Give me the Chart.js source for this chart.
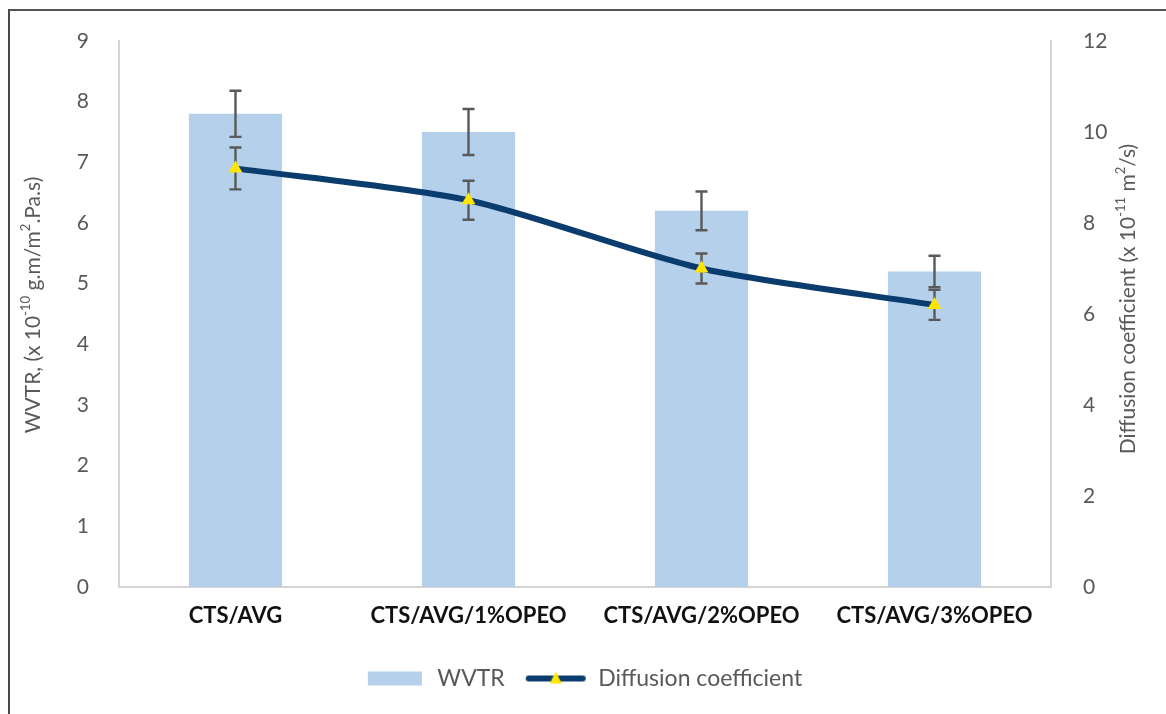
<!DOCTYPE html>
<html>
<head>
<meta charset="utf-8">
<script src="https://cdn.jsdelivr.net/npm/chart.js@4.4.1/dist/chart.umd.min.js"></script>
<style>
  html, body { margin: 0; padding: 0; background: #fff; }
  canvas { display: block; }
</style>
</head>
<body>
<canvas id="c" width="1166" height="714"></canvas>
<script>
const categories = ["CTS/AVG", "CTS/AVG/1%OPEO", "CTS/AVG/2%OPEO", "CTS/AVG/3%OPEO"];
const wvtr = [7.8, 7.5, 6.2, 5.2];
const wvtrErr = [0.38, 0.38, 0.32, 0.26];
const diffusion = [9.2, 8.5, 7.0, 6.2];
const diffusionErr = [0.46, 0.43, 0.33, 0.33];
const leftTicks = [0, 1, 2, 3, 4, 5, 6, 7, 8, 9];
const rightTicks = [0, 2, 4, 6, 8, 10, 12];
// axis titles: [text, isSuperscript]
const leftTitle = [["WVTR, (x 10", false], ["-10", true], [" g.m/m", false], ["2", true], [".Pa.s)", false]];
const rightTitle = [["Diffusion coefficient (x 10", false], ["-11", true], [" m", false], ["2", true], ["/s)", false]];

const FONT = "Lato, 'Open Sans', sans-serif";
const BAR_COLOR = "#B5D0EB";
const LINE_COLOR = "#0B3C6E";
const MARK_COLOR = "#FFE500";
const ERR_COLOR = "#595959";
const TEXT_COLOR = "#595959";

function makeSwatch(type) {
  const cv = document.createElement('canvas');
  cv.width = 62; cv.height = 20;
  const c = cv.getContext('2d');
  if (type === 'bar') {
    c.fillStyle = BAR_COLOR;
    c.fillRect(4, 3, 54, 14);
  } else {
    c.strokeStyle = LINE_COLOR; c.lineWidth = 6; c.lineCap = 'round';
    c.beginPath(); c.moveTo(4, 10); c.lineTo(58, 10); c.stroke();
    c.fillStyle = MARK_COLOR;
    c.beginPath(); c.moveTo(31, 3); c.lineTo(37, 15); c.lineTo(25, 15); c.closePath(); c.fill();
  }
  return cv;
}
const barSwatch = makeSwatch('bar');
const lineSwatch = makeSwatch('line');

function drawErr(chart, dsIndex, errs) {
  const meta = chart.getDatasetMeta(dsIndex);
  const ds = chart.data.datasets[dsIndex];
  const scale = chart.scales[meta.yAxisID];
  const ctx = chart.ctx;
  ctx.save();
  ctx.strokeStyle = ERR_COLOR;
  ctx.lineWidth = 2.4;
  meta.data.forEach((el, i) => {
    const v = ds.data[i], e = errs[i];
    const x = el.x;
    const yTop = scale.getPixelForValue(v + e);
    const yBot = scale.getPixelForValue(v - e);
    ctx.beginPath();
    ctx.moveTo(x, yTop); ctx.lineTo(x, yBot);
    ctx.moveTo(x - 6, yTop); ctx.lineTo(x + 6, yTop);
    ctx.moveTo(x - 6, yBot); ctx.lineTo(x + 6, yBot);
    ctx.stroke();
  });
  ctx.restore();
}

const errorPlugin = {
  id: 'errorBars',
  afterDatasetDraw(chart, args) {
    if (args.index === 0) drawErr(chart, 0, wvtrErr);
  },
  beforeDatasetDraw(chart, args) {
    if (args.index === 1) drawErr(chart, 1, diffusionErr);
  }
};

function drawRichVertical(ctx, parts, cx, cy, size) {
  const norm = size + "px " + FONT;
  const sup = Math.round(size * 0.62) + "px " + FONT;
  ctx.save();
  let total = 0;
  parts.forEach(([t, s]) => { ctx.font = s ? sup : norm; total += ctx.measureText(t).width; });
  ctx.translate(cx, cy);
  ctx.rotate(-Math.PI / 2);
  ctx.fillStyle = TEXT_COLOR;
  ctx.textBaseline = 'middle';
  ctx.textAlign = 'left';
  let x = -total / 2;
  parts.forEach(([t, s]) => {
    ctx.font = s ? sup : norm;
    ctx.fillText(t, x, s ? -size * 0.32 : 0);
    x += ctx.measureText(t).width;
  });
  ctx.restore();
}

const titlePlugin = {
  id: 'axisTitles',
  afterDraw(chart) {
    const ctx = chart.ctx;
    ctx.save();
    ctx.fillStyle = '#555';
    ctx.fillRect(8, 9, chart.width - 8, 2);
    ctx.fillStyle = '#4a4a4a';
    ctx.fillRect(8, 9, 2, chart.height - 9);
    ctx.restore();
    const ca = chart.chartArea;
    const cy = (ca.top + ca.bottom) / 2;
    drawRichVertical(ctx, leftTitle, 33, cy - 9, 21);
    drawRichVertical(ctx, rightTitle, 1128, cy - 15, 21);
  }
};

new Chart(document.getElementById('c'), {
  data: {
    labels: categories,
    datasets: [
      {
        type: 'bar',
        label: 'WVTR',
        data: wvtr,
        backgroundColor: BAR_COLOR,
        borderWidth: 0,
        barPercentage: 0.4,
        categoryPercentage: 1.0,
        yAxisID: 'y',
        order: 2
      },
      {
        type: 'line',
        label: 'Diffusion coefficient',
        data: diffusion,
        borderColor: LINE_COLOR,
        borderWidth: 6,
        tension: 0.25,
        pointStyle: 'triangle',
        pointRadius: 8,
        pointBackgroundColor: MARK_COLOR,
        pointBorderColor: MARK_COLOR,
        pointBorderWidth: 0,
        yAxisID: 'y1',
        order: 1
      }
    ]
  },
  options: {
    responsive: false,
    animation: false,
    layout: { padding: { top: 41, bottom: 14, left: 0, right: 0 } },
    plugins: {
      tooltip: { enabled: false },
      legend: {
        position: 'bottom',
        labels: {
          usePointStyle: true,
          pointStyleWidth: 62,
          padding: 20,
          color: TEXT_COLOR,
          font: { family: FONT, size: 23 },
          generateLabels(chart) {
            return chart.data.datasets.map((ds, i) => ({
              text: ds.label,
              pointStyle: i === 0 ? barSwatch : lineSwatch,
              fillStyle: 'transparent',
              strokeStyle: 'transparent',
              lineWidth: 0,
              fontColor: TEXT_COLOR,
              datasetIndex: i,
              hidden: false
            }));
          }
        }
      }
    },
    scales: {
      x: {
        grid: { display: false },
        border: { display: true, color: '#d4d4d4', width: 2 },
        ticks: { color: '#111', font: { family: FONT, size: 22, weight: 'bold' }, padding: 8, maxRotation: 0 },
        afterFit(s) { s.height = 60; }
      },
      y: {
        position: 'left',
        min: 0, max: 9,
        afterBuildTicks(s) { s.ticks = leftTicks.map(v => ({ value: v })); },
        grid: { display: false },
        border: { display: true, color: '#d4d4d4', width: 2 },
        ticks: { color: TEXT_COLOR, font: { family: FONT, size: 21 }, padding: 22 },
        afterFit(s) { s.width = 119; }
      },
      y1: {
        position: 'right',
        min: 0, max: 12,
        afterBuildTicks(s) { s.ticks = rightTicks.map(v => ({ value: v })); },
        grid: { display: false, drawOnChartArea: false },
        border: { display: true, color: '#d4d4d4', width: 2 },
        ticks: { color: TEXT_COLOR, font: { family: FONT, size: 21 }, padding: 24 },
        afterFit(s) { s.width = 115; }
      }
    }
  },
  plugins: [errorPlugin, titlePlugin]
});
</script>
</body>
</html>
